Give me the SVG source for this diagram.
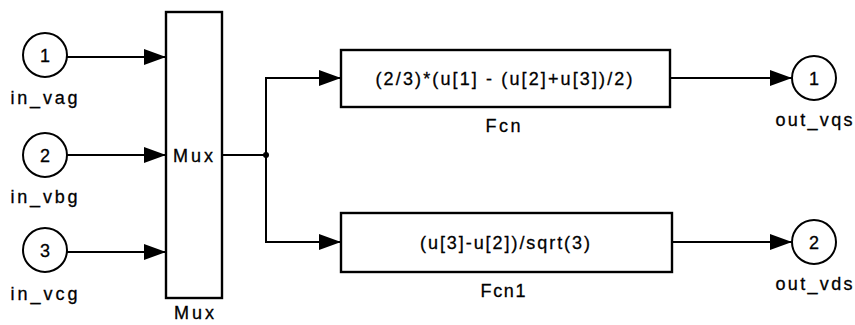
<svg xmlns="http://www.w3.org/2000/svg" width="855" height="325" viewBox="0 0 855 325">
<style>
text{font-family:"Liberation Sans",Arial,sans-serif;font-size:18px;fill:#000;stroke:#000;stroke-width:0.3}
.port{fill:#fff;stroke:#000;stroke-width:2}
.blk{fill:#fff;stroke:#000;stroke-width:2.4}
.wire{fill:none;stroke:#000;stroke-width:2}
.lbl{text-anchor:middle}
</style>
<defs>
<marker id="arr" markerUnits="userSpaceOnUse" markerWidth="24" markerHeight="18" refX="22" refY="9" orient="auto">
<path d="M0,1 L22,9 L0,17 z" fill="#000"/>
</marker>
</defs>
<rect width="855" height="325" fill="#fff"/>
<g id="connectors">
<line class="wire" x1="67" y1="57" x2="166" y2="57" stroke-width="2.6" marker-end="url(#arr)"/>
<line class="wire" x1="67" y1="155" x2="166" y2="155" marker-end="url(#arr)"/>
<line class="wire" x1="67" y1="252" x2="166" y2="252" marker-end="url(#arr)"/>
<line class="wire" x1="222" y1="155" x2="266" y2="155"/>
<polyline class="wire" points="341,78 266,78 266,242 341,242"/>
<line class="wire" x1="266" y1="78" x2="341" y2="78" marker-end="url(#arr)"/>
<line class="wire" x1="266" y1="242" x2="341" y2="242" marker-end="url(#arr)"/>
<circle cx="266" cy="155" r="3" fill="#000"/>
<line class="wire" x1="670" y1="78" x2="792" y2="78" marker-end="url(#arr)"/>
<line class="wire" x1="672" y1="242" x2="792" y2="242" marker-end="url(#arr)"/>
</g>
<g id="in_vag">
<circle class="port" cx="45" cy="55" r="22"/>
<text x="45" y="62" class="lbl">1</text>
<text x="44" y="104" class="lbl" textLength="67" lengthAdjust="spacing">in_vag</text>
</g>
<g id="in_vbg">
<circle class="port" cx="45" cy="155" r="22"/>
<text x="45" y="162" class="lbl">2</text>
<text x="44" y="203" class="lbl" textLength="67" lengthAdjust="spacing">in_vbg</text>
</g>
<g id="in_vcg">
<circle class="port" cx="45" cy="250" r="22"/>
<text x="45" y="257" class="lbl">3</text>
<text x="44" y="300" class="lbl" textLength="67" lengthAdjust="spacing">in_vcg</text>
</g>
<g id="Mux">
<rect class="blk" x="166" y="12" width="56" height="286"/>
<text x="193" y="162" class="lbl" textLength="40" lengthAdjust="spacing">Mux</text>
<text x="194" y="319" class="lbl" textLength="40" lengthAdjust="spacing">Mux</text>
</g>
<g id="Fcn">
<rect class="blk" x="341" y="50" width="329" height="57"/>
<text x="504" y="85" class="lbl" textLength="257" lengthAdjust="spacing">(2/3)*(u[1] - (u[2]+u[3])/2)</text>
<text x="503" y="132" class="lbl" textLength="35" lengthAdjust="spacing">Fcn</text>
</g>
<g id="Fcn1">
<rect class="blk" x="341" y="213" width="331" height="59"/>
<text x="505" y="249" class="lbl" textLength="170" lengthAdjust="spacing">(u[3]-u[2])/sqrt(3)</text>
<text x="503" y="297" class="lbl" textLength="45" lengthAdjust="spacing">Fcn1</text>
</g>
<g id="out_vqs">
<circle class="port" cx="814" cy="78" r="22"/>
<text x="814" y="85" class="lbl">1</text>
<text x="814" y="126" class="lbl" textLength="77" lengthAdjust="spacing">out_vqs</text>
</g>
<g id="out_vds">
<circle class="port" cx="814" cy="242" r="22"/>
<text x="814" y="249" class="lbl">2</text>
<text x="814" y="290" class="lbl" textLength="77" lengthAdjust="spacing">out_vds</text>
</g>
</svg>
